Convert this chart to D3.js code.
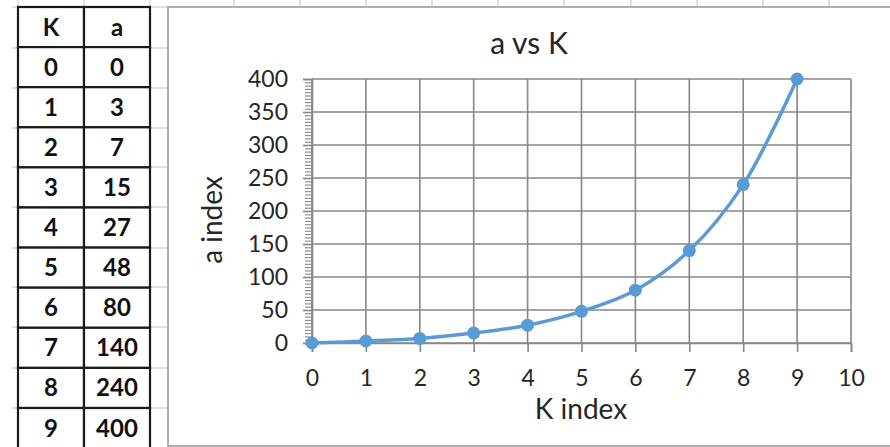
<!DOCTYPE html>
<html>
<head>
<meta charset="utf-8">
<script src="https://cdn.jsdelivr.net/npm/d3@7"></script>
<style>
  html, body { margin: 0; padding: 0; background: #fff; }
  svg { display: block; }
  text { font-family: Lato, "Liberation Sans", sans-serif; }
</style>
</head>
<body>
<svg id="chart" width="890" height="447"></svg>
<script>
// ---- data ----
const kValues = [0, 1, 2, 3, 4, 5, 6, 7, 8, 9];
const aValues = [0, 3, 7, 15, 27, 48, 80, 140, 240, 400];
const xTickValues = [0, 1, 2, 3, 4, 5, 6, 7, 8, 9, 10];
const yTickValues = [0, 50, 100, 150, 200, 250, 300, 350, 400];
const tableHeaders = ["K", "a"];
const chartTitle = "a vs K";
const xAxisTitle = "K index";
const yAxisTitle = "a index";

const svg = d3.select("#chart");

// ---- spreadsheet background gridlines ----
const sheetGrid = "#d9d9d9";
const rowBounds = [7, 48, 88, 128, 167, 207, 248, 287, 327, 368, 408];
const colBoundsTop = [18, 84, 150, 234, 300, 366, 432, 498, 564, 631, 697, 763, 829];
svg.append("g").selectAll("line").data(rowBounds).join("line")
  .attr("x1", 12).attr("x2", 18).attr("y1", d => d).attr("y2", d => d)
  .attr("stroke", sheetGrid).attr("stroke-width", 1.5);
svg.append("g").selectAll("line").data(rowBounds).join("line")
  .attr("x1", 150).attr("x2", 168).attr("y1", d => d).attr("y2", d => d)
  .attr("stroke", sheetGrid).attr("stroke-width", 1.5);
svg.append("g").selectAll("line").data(colBoundsTop).join("line")
  .attr("x1", d => d).attr("x2", d => d).attr("y1", 0).attr("y2", 7)
  .attr("stroke", sheetGrid).attr("stroke-width", 1.5);

// ---- data table ----
const tableX = [18, 84, 150];
const rowH = 40.1;
const tableTop = 7;
const rows = [tableHeaders].concat(kValues.map((k, i) => [String(k), String(aValues[i])]));
const tableG = svg.append("g");
rows.forEach((r, i) => {
  r.forEach((cell, j) => {
    tableG.append("rect")
      .attr("x", tableX[j]).attr("y", tableTop + i * rowH)
      .attr("width", tableX[j + 1] - tableX[j]).attr("height", rowH)
      .attr("fill", "#fff").attr("stroke", "#1a1a1a").attr("stroke-width", 2.2);
    tableG.append("text")
      .attr("x", (tableX[j] + tableX[j + 1]) / 2)
      .attr("y", tableTop + i * rowH + rowH / 2 + 8.5)
      .attr("text-anchor", "middle")
      .attr("font-size", 24).attr("font-weight", "bold").attr("fill", "#111")
      .text(cell);
  });
});

// ---- chart area ----
svg.append("rect")
  .attr("x", 168).attr("y", 7).attr("width", 730).attr("height", 439)
  .attr("fill", "#fff").attr("stroke", "#a6a6a6").attr("stroke-width", 1.8);

const plot = { left: 312, right: 851, top: 79, bottom: 343 };
const x = d3.scaleLinear().domain([0, 10]).range([plot.left, plot.right]);
const y = d3.scaleLinear().domain([0, 400]).range([plot.bottom, plot.top]);

const gridColor = "#878787";
svg.append("g").selectAll("line").data(xTickValues).join("line")
  .attr("x1", d => x(d)).attr("x2", d => x(d))
  .attr("y1", plot.top).attr("y2", plot.bottom)
  .attr("stroke", gridColor).attr("stroke-width", 1.6);
svg.append("g").selectAll("line").data(yTickValues).join("line")
  .attr("x1", plot.left).attr("x2", plot.right)
  .attr("y1", d => y(d)).attr("y2", d => y(d))
  .attr("stroke", gridColor).attr("stroke-width", 1.6);

// y axis minor ticks
const yMinor = d3.range(0, 401, 5).filter(v => v % 50 !== 0);
const yMinorAxis = d3.axisLeft(y).tickValues(yMinor).tickSize(7).tickFormat("");
const gyMinor = svg.append("g").attr("transform", `translate(${plot.left},0)`).call(yMinorAxis);
gyMinor.select(".domain").remove();
gyMinor.selectAll("line").attr("stroke", gridColor).attr("stroke-width", 1.1);

// y axis major
const yAxis = d3.axisLeft(y).tickValues(yTickValues).tickSize(9).tickPadding(15);
const gy = svg.append("g").attr("transform", `translate(${plot.left},0)`).call(yAxis);
gy.select(".domain").attr("stroke", gridColor).attr("stroke-width", 1.6);
gy.selectAll("line").attr("stroke", gridColor).attr("stroke-width", 1.6);
gy.selectAll("text").attr("font-size", 23).attr("fill", "#262626")
  .attr("font-family", "Lato, 'Liberation Sans', sans-serif");

// x axis
const xAxis = d3.axisBottom(x).tickValues(xTickValues).tickSize(9).tickPadding(18);
const gx = svg.append("g").attr("transform", `translate(0,${plot.bottom})`).call(xAxis);
gx.select(".domain").attr("stroke", gridColor).attr("stroke-width", 1.6);
gx.selectAll("line").attr("stroke", gridColor).attr("stroke-width", 1.6);
gx.selectAll("text").attr("font-size", 23).attr("fill", "#262626")
  .attr("font-family", "Lato, 'Liberation Sans', sans-serif");

// titles
svg.append("text").attr("x", 529).attr("y", 54).attr("text-anchor", "middle")
  .attr("font-size", 30).attr("fill", "#262626").text(chartTitle);
svg.append("text").attr("x", 581).attr("y", 419).attr("text-anchor", "middle")
  .attr("font-size", 28).attr("fill", "#262626").text(xAxisTitle);
svg.append("text").attr("transform", "translate(222,220) rotate(-90)")
  .attr("text-anchor", "middle")
  .attr("font-size", 28).attr("fill", "#262626").text(yAxisTitle);

// series
const pts = kValues.map((k, i) => [k, aValues[i]]);
const line = d3.line().x(d => x(d[0])).y(d => y(d[1])).curve(d3.curveCatmullRom.alpha(0.5));
const blue = "#5b9bd5";
svg.append("path").datum(pts).attr("d", line)
  .attr("fill", "none").attr("stroke", blue).attr("stroke-width", 3.5)
  .attr("stroke-linecap", "round");
svg.append("g").selectAll("circle").data(pts).join("circle")
  .attr("cx", d => x(d[0])).attr("cy", d => y(d[1])).attr("r", 6.5)
  .attr("fill", blue);
</script>
</body>
</html>
